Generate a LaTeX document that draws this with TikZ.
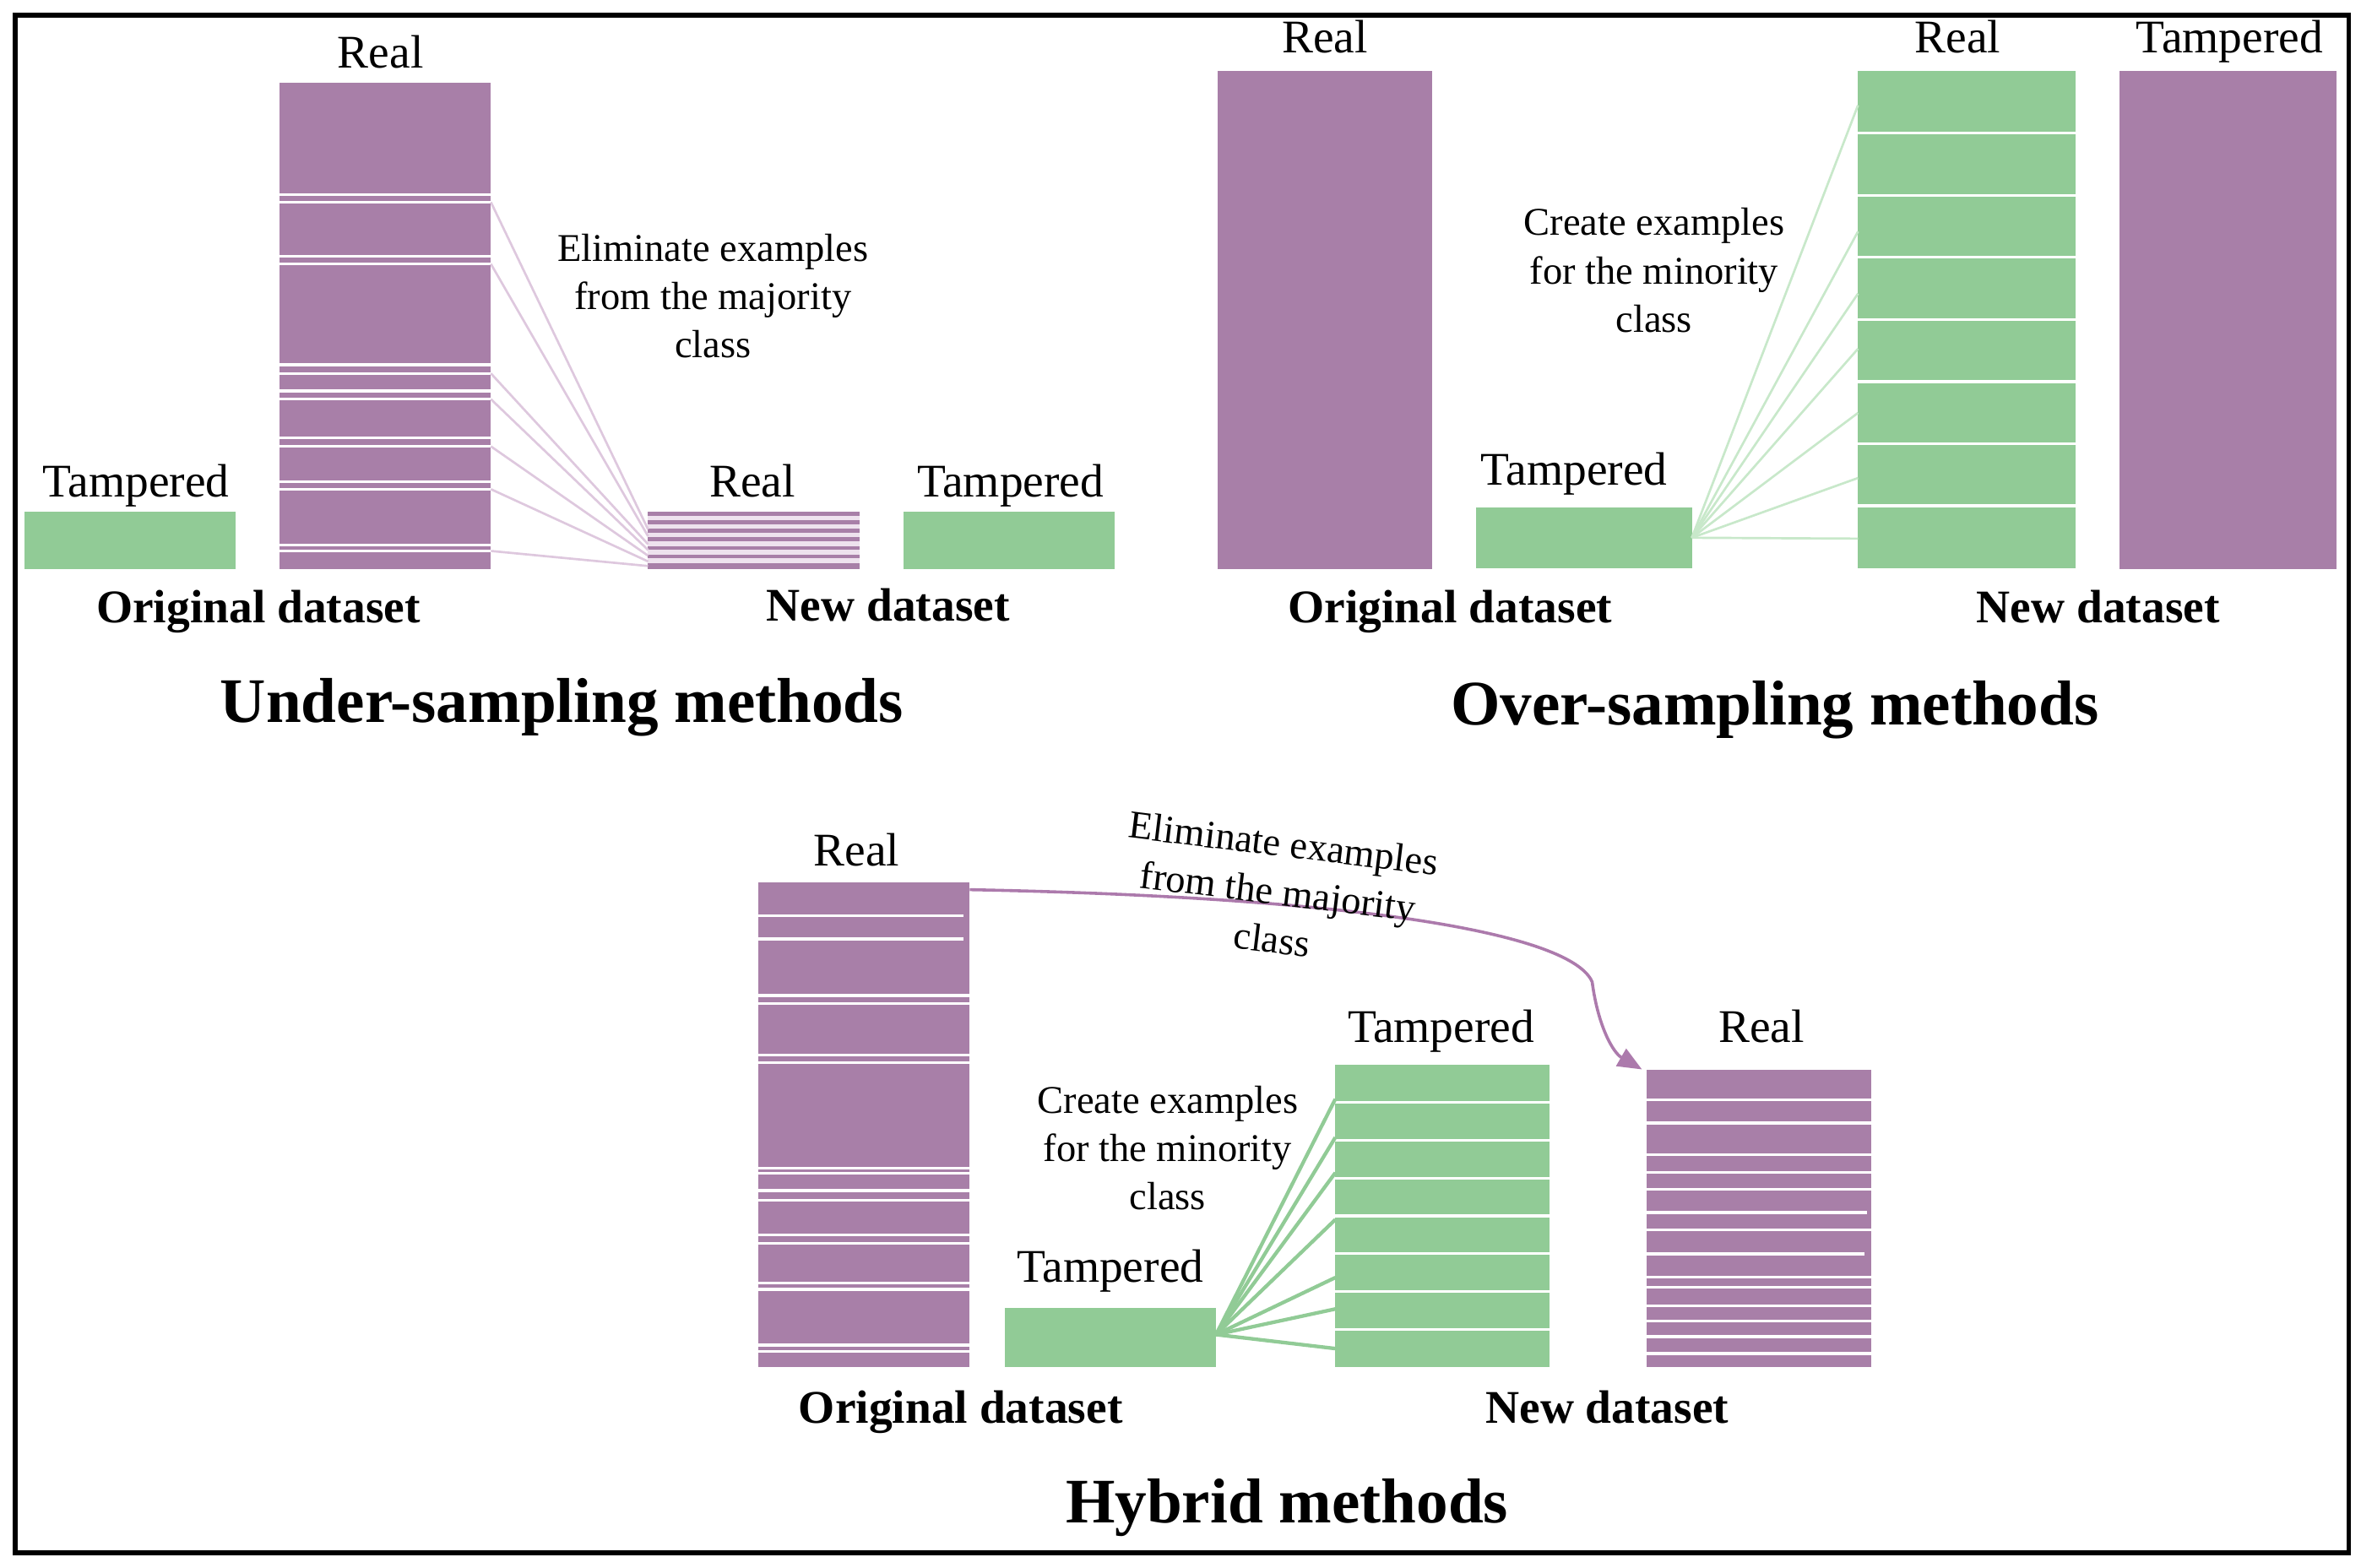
\documentclass[tikz,border=0pt]{standalone}
\usepackage{fontspec}
\setmainfont{Liberation Serif}
\usetikzlibrary{calc,arrows.meta}
\definecolor{purp}{RGB}{168,127,168}
\definecolor{grn}{RGB}{145,203,150}
\definecolor{lpurp}{RGB}{222,200,222}
\definecolor{lgrn}{RGB}{200,232,202}
\definecolor{lav}{RGB}{238,226,238}
\definecolor{arrowp}{RGB}{172,122,172}
\begin{document}
\begin{tikzpicture}[x=1pt,y=-1pt,
  box/.style={draw=none,inner sep=0pt,outer sep=0pt,anchor=north west},
  pbox/.style={box,fill=purp},
  gbox/.style={box,fill=grn},
  lbl/.style={font=\fontsize{31}{36}\selectfont,anchor=base,inner sep=0pt},
  note/.style={font=\fontsize{26}{32}\selectfont,align=center,inner sep=0pt},
  dcap/.style={font=\fontsize{31}{36}\selectfont\bfseries,anchor=base,inner sep=0pt},
  ttl/.style={font=\fontsize{42}{48}\selectfont\bfseries,anchor=base,inner sep=0pt},
  wline/.style={draw=white,line width=1.8pt},
  ulink/.style={draw=lpurp,line width=1.5pt},
  olink/.style={draw=lgrn,line width=1.5pt},
  hlink/.style={draw=grn,line width=2.4pt},
]
\useasboundingbox (0,0) rectangle (1563,1038);
\draw[line width=3pt] (10,10) rectangle (1555,1028);

% ---------------- Under-sampling ----------------
\node[gbox,minimum width=140pt,minimum height=38pt] (uT) at (16,339) {};
\node[pbox,minimum width=140pt,minimum height=322pt] (uR) at (185,55) {};
\node[box,fill=lav,minimum width=140pt,minimum height=38pt] (uN) at (429,339) {};
\node[gbox,minimum width=140pt,minimum height=38pt] (uT2) at (598,339) {};
\foreach \k in {0,...,5}
  \fill[purp] ($(uN.north west)+(0,5.6*\k)$) rectangle ++(140,2.6);
\fill[purp] ($(uN.north west)+(0,33.6)$) rectangle (uN.south east);
\foreach \r in {0.229,0.245,0.356,0.372,0.579,0.597,0.633,0.650,0.730,0.747,0.819,0.835,0.950,0.962}
  \draw[wline] ($(uR.north west)!\r!(uR.south west)$) -- ($(uR.north east)!\r!(uR.south east)$);
\foreach \a/\b in {0.245/0.3,0.372/0.42,0.597/0.56,0.650/0.66,0.747/0.76,0.835/0.86,0.962/0.94}
  \draw[ulink] ($(uR.north east)!\a!(uR.south east)$) -- ($(uN.north west)!\b!(uN.south west)$);
\node[lbl] (uRl) at (252,45) {Real};
\node[lbl] (uTl) at (90,329) {Tampered};
\node[lbl] (uNl) at (498,329) {Real};
\node[lbl] (uT2l) at (669,329) {Tampered};
\node[note] (uNote) at (472,196) {Eliminate examples\\from the majority\\class};
\node[dcap] (uO) at (171,412) {Original dataset};
\node[dcap] (uNd) at (588,411) {New dataset};
\node[ttl] (uTitle) at (372,478) {Under-sampling methods};

% ---------------- Over-sampling ----------------
\node[pbox,minimum width=142pt,minimum height=330pt] (oR) at (806,47) {};
\node[gbox,minimum width=143pt,minimum height=40pt] (oT) at (977,336) {};
\node[gbox,minimum width=144pt,minimum height=329pt] (oN) at (1230,47) {};
\node[pbox,minimum width=144pt,minimum height=330pt] (oT2) at (1403,47) {};
\foreach \k in {1,...,7}
  \draw[wline] ($(oN.north west)!\k/8!(oN.south west)$) -- ($(oN.north east)!\k/8!(oN.south east)$);
\foreach \b in {0.069,0.323,0.448,0.559,0.688,0.819,0.941}
  \draw[olink] (oT.east) -- ($(oN.north west)!\b!(oN.south west)$);
\node[lbl] (oRl) at (877,35) {Real};
\node[lbl] (oNl) at (1296,35) {Real};
\node[lbl] (oT2l) at (1476,35) {Tampered};
\node[lbl] (oTl) at (1042,321) {Tampered};
\node[note] (oNote) at (1095,179) {Create examples\\for the minority\\class};
\node[dcap] (oO) at (960,412) {Original dataset};
\node[dcap] (oNd) at (1389,412) {New dataset};
\node[ttl] (oTitle) at (1175,480) {Over-sampling methods};

% ---------------- Hybrid ----------------
\node[pbox,minimum width=140pt,minimum height=321pt] (hR) at (502,584) {};
\node[gbox,minimum width=140pt,minimum height=39pt] (hT) at (665,866) {};
\node[gbox,minimum width=142pt,minimum height=200pt] (hN) at (884,705) {};
\node[pbox,minimum width=149pt,minimum height=197pt] (hN2) at (1090,708) {};
\foreach \r/\w in {0.069/0.97,0.117/0.97,0.234/1,0.25/1,0.356/1,0.372/1,0.59/1,0.601/1,0.636/1,0.656/1,0.727/1,0.745/1,0.827/1,0.840/1,0.955/1,0.968/1}
  \draw[wline] ($(hR.north west)!\r!(hR.south west)$) -- ++(140*\w,0);
\foreach \k in {1,...,7}
  \draw[wline] ($(hN.north west)!\k/8!(hN.south west)$) -- ($(hN.north east)!\k/8!(hN.south east)$);
\foreach \r/\w in {0.102/1,0.18/1,0.287/1,0.347/1,0.403/1,0.481/0.98,0.54/1,0.62/0.97,0.697/1,0.732/1,0.794/1,0.846/1,0.898/1,0.955/1}
  \draw[wline] ($(hN2.north west)!\r!(hN2.south west)$) -- ++(149*\w,0);
\coordinate (hTe) at ($(hT.north east)!0.45!(hT.south east)$);
\foreach \b in {0.113,0.24,0.357,0.512,0.704,0.808,0.939}
  \draw[hlink] (hTe) -- ($(hN.north west)!\b!(hN.south west)$);
\coordinate (hStart) at ($(hR.north east)+(0,5)$);
\coordinate (hEnd) at ($(hN2.north west)+(-3,0)$);
\draw[arrowp,line width=2pt,-{Triangle[length=16pt,width=13pt]}]
  (hStart) .. controls (900,594) and (1040,618) .. (1054,650)
           .. controls (1058,680) and (1068,697) .. (hEnd);
\node[note,rotate=-7] (hNote1) at (846,590) {Eliminate examples\\from the majority\\class};
\node[lbl] (hRl) at (567,573) {Real};
\node[lbl] (hTl) at (735,849) {Tampered};
\node[lbl] (hNl) at (954,690) {Tampered};
\node[lbl] (hN2l) at (1166,690) {Real};
\node[note] (hNote2) at (773,760) {Create examples\\for the minority\\class};
\node[dcap] (hO) at (636,942) {Original dataset};
\node[dcap] (hNd) at (1064,942) {New dataset};
\node[ttl] (hTitle) at (852,1008) {Hybrid methods};
\end{tikzpicture}
\end{document}
